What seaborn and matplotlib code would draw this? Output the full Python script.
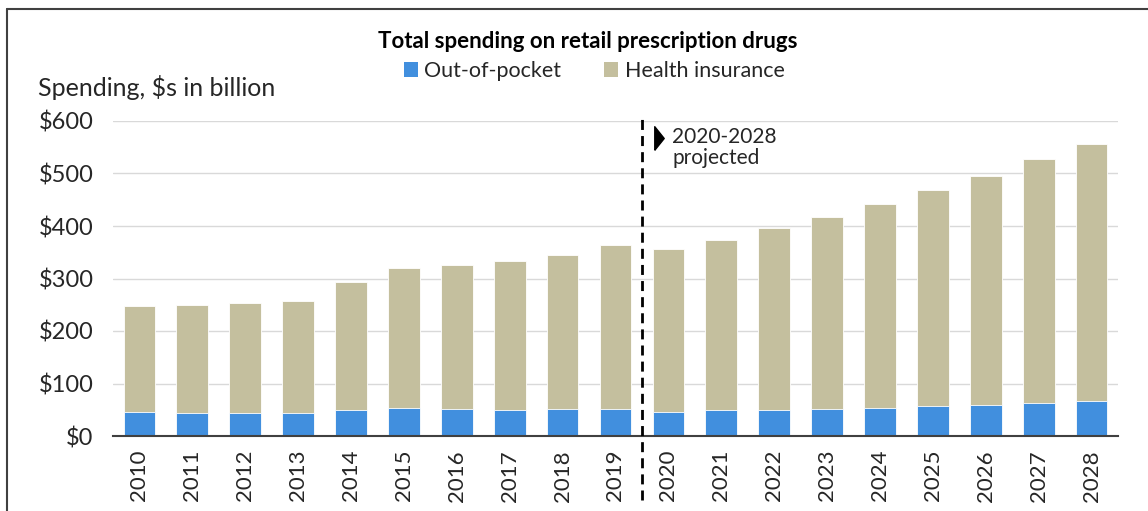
import matplotlib
matplotlib.use("Agg")
import matplotlib.pyplot as plt
from matplotlib.patches import Patch
from matplotlib.lines import Line2D
import seaborn as sns
import pandas as pd

years = [str(y) for y in range(2010, 2029)]
out_of_pocket = [46, 44, 44, 44, 49, 54, 51, 49, 51, 51,
                 46, 49, 49, 51, 54, 56.5, 59, 63.5, 66]
total_spending = [247.5, 250, 252.5, 257.5, 293.5, 320, 326, 333, 345, 364,
                  357, 374, 396, 418, 442, 469, 496, 527, 557]
health_insurance = [t - o for t, o in zip(total_spending, out_of_pocket)]
y_ticks = [0, 100, 200, 300, 400, 500, 600]
y_tick_labels = ["$0", "$100", "$200", "$300", "$400", "$500", "$600"]

BLUE = "#418FDE"
TAN = "#C4BF9E"

sns.set_theme(style="white")
plt.rcParams["font.family"] = ["Lato", "DejaVu Sans"]

df = pd.DataFrame({"year": years, "total": total_spending,
                   "oop": out_of_pocket, "ins": health_insurance})

W, H = 1148, 511
fig = plt.figure(figsize=(W / 100, H / 100), dpi=100)
ax = fig.add_axes([113 / W, (H - 436) / H, (1118 - 113) / W, (436 - 121) / H])

sns.barplot(data=df, x="year", y="total", color=TAN, width=0.6, ax=ax,
            saturation=1, edgecolor="white", linewidth=0.6, zorder=3)
sns.barplot(data=df, x="year", y="oop", color=BLUE, width=0.6, ax=ax,
            saturation=1, edgecolor="white", linewidth=0.6, zorder=4)

ax.set_ylim(0, 600)
ax.set_xlim(-0.5, len(years) - 0.5)
ax.set_yticks(y_ticks)
ax.set_yticklabels(y_tick_labels, fontsize=17, color="#262626")
ax.tick_params(axis="y", length=0, pad=14)
ax.tick_params(axis="x", length=0, pad=10, labelsize=16, labelcolor="#262626")
for lbl in ax.get_xticklabels():
    lbl.set_rotation(90)
ax.set_xlabel("")
ax.set_ylabel("")
ax.grid(axis="y", color="#D9D9D9", linewidth=1, zorder=0)
ax.set_axisbelow(True)
for s in ["top", "right", "left"]:
    ax.spines[s].set_visible(False)
ax.spines["bottom"].set_color("#404040")
ax.spines["bottom"].set_linewidth(1.5)
ax.spines["bottom"].set_zorder(5)

# projection divider
ax.axvline(9.5, ymin=-0.203, ymax=1.01, color="black", linewidth=2.0,
           linestyle=(0, (3.6, 2.2)), clip_on=False, zorder=6)
tri = [(-0.4, -1.0), (0.4, 0.0), (-0.4, 1.0), (-0.4, -1.0)]
fig.add_artist(Line2D([659 / W], [(H - 138) / H], transform=fig.transFigure,
                      marker=tri, markersize=17, color="black", linestyle="none"))
fig.text(672 / W, (H - 137) / H, "2020-2028", ha="left", va="center",
         fontsize=15, color="#262626")
fig.text(672 / W, (H - 158) / H, "projected", ha="left", va="center",
         fontsize=15, color="#262626")

# title, axis label, legend
fig.text(588 / W, (H - 42) / H, "Total spending on retail prescription drugs",
         ha="center", va="center", fontsize=16, fontweight="bold", color="black")
fig.text(38 / W, (H - 87) / H, "Spending, $s in billion", ha="left", va="center",
         fontsize=18, color="#262626")
handles = [Patch(facecolor=BLUE, edgecolor="none", label="Out-of-pocket"),
           Patch(facecolor=TAN, edgecolor="none", label="Health insurance")]
fig.legend(handles=handles, loc="center", bbox_to_anchor=(594 / W, (H - 71) / H),
           ncol=2, frameon=False, fontsize=15.5, handlelength=0.65, handleheight=0.65,
           handletextpad=0.3, columnspacing=2.0, labelcolor="#262626")

# outer frame (top and left edges visible)
fig.add_artist(Line2D([7 / W, 7 / W], [0, (H - 9) / H], transform=fig.transFigure,
                      color="#404040", linewidth=1.5))
fig.add_artist(Line2D([7 / W, 1], [(H - 9) / H, (H - 9) / H], transform=fig.transFigure,
                      color="#404040", linewidth=1.5))

fig.savefig("out.png", dpi=100)
